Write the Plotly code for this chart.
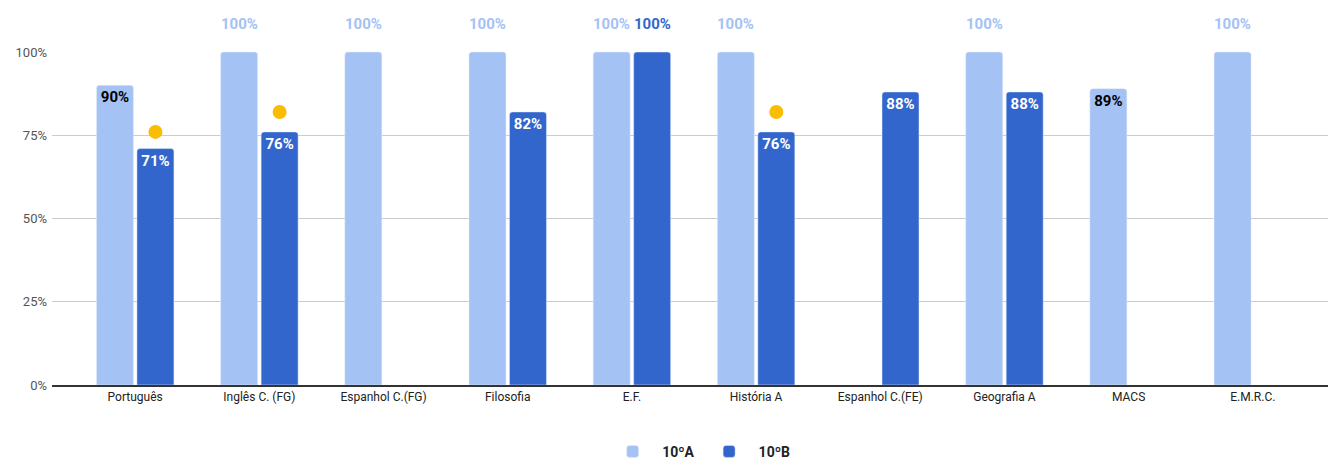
import plotly.graph_objects as go

categories = ["Português", "Inglês C. (FG)", "Espanhol C.(FG)", "Filosofia", "E.F.",
              "História A", "Espanhol C.(FE)", "Geografia A", "MACS", "E.M.R.C."]
serie_a = [90, 100, 100, 100, 100, 100, None, 100, 89, 100]
serie_b = [71, 76, None, 82, 100, 76, 88, 88, None, None]
pontos = [76, 82, None, None, None, 82, None, None, None, None]
y_ticks = [0, 25, 50, 75, 100]
name_a = "10ºA"
name_b = "10ºB"

color_a = "#a4c2f4"
color_b = "#3366cc"
color_dot = "#fbbc04"

x_idx = list(range(len(categories)))
bargap = 0.348
slot = (1 - bargap) / 2


def fmt(v):
    return "" if v is None else f"{v:.0f}%"


def inside_text(vals):
    return [("" if (v is None or v >= 100) else fmt(v)) for v in vals]


fig = go.Figure()
fig.add_trace(go.Bar(
    x=x_idx, y=serie_a, name=name_a, marker_color=color_a,
    text=inside_text(serie_a), textposition="inside", insidetextanchor="end",
    textfont=dict(family="Roboto", size=15, color="#000000", weight="bold"),
    textangle=0, cliponaxis=False,
))
fig.add_trace(go.Bar(
    x=x_idx, y=serie_b, name=name_b, marker_color=color_b,
    text=inside_text(serie_b), textposition="inside", insidetextanchor="end",
    textfont=dict(family="Roboto", size=15, color="#ffffff", weight="bold"),
    textangle=0, cliponaxis=False,
))
fig.add_trace(go.Scatter(
    x=[i + slot / 2 for i in x_idx], y=pontos, mode="markers",
    marker=dict(color=color_dot, size=14), showlegend=False, hoverinfo="skip",
))

annotations = []
for vals, off, col in ((serie_a, -slot / 2, color_a), (serie_b, slot / 2, color_b)):
    for i, v in enumerate(vals):
        if v is not None and v >= 100:
            annotations.append(dict(
                x=i + off, y=v, xref="x", yref="y", text=f"<b>{fmt(v)}</b>",
                showarrow=False, yshift=28, yanchor="middle",
                font=dict(family="Roboto", size=15, color=col),
            ))

fig.update_layout(
    width=1328, height=453,
    margin=dict(l=44, r=0, t=43, b=76, autoexpand=False),
    paper_bgcolor="white", plot_bgcolor="white",
    barmode="group", bargap=bargap, bargroupgap=0.086, barcornerradius=3,
    font=dict(family="Roboto", color="#222222"),
    annotations=annotations,
    showlegend=True,
    legend=dict(orientation="h", x=0.504, xanchor="center", y=-0.2, yanchor="middle",
                font=dict(family="Roboto", size=14, color="#222222", weight="bold"),
                itemwidth=49, traceorder="normal"),
    xaxis=dict(range=[-0.67, 9.67], tickvals=x_idx, ticktext=categories,
               tickfont=dict(family="Roboto", size=12, color="#222222"),
               showgrid=False, showline=True, linecolor="#333333", linewidth=2,
               ticks="", zeroline=False, fixedrange=True, automargin=False),
    yaxis=dict(range=[0, 100.3], tickvals=y_ticks, ticktext=[f"{t}%" for t in y_ticks],
               tickfont=dict(family="Roboto", size=13, color="#555555"),
               ticklabelstandoff=4,
               showgrid=True, gridcolor="#cccccc", gridwidth=1,
               zeroline=False, showline=False, ticks="", fixedrange=True, automargin=False),
)

fig.write_html("out.html")
